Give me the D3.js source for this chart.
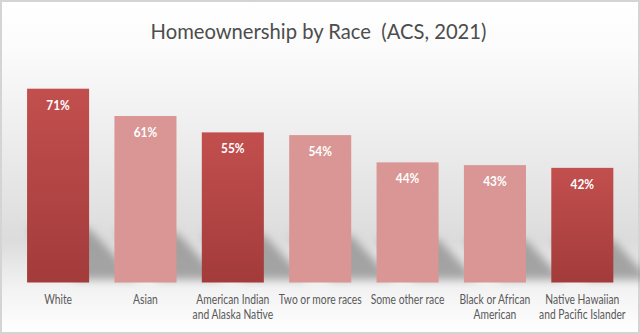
<!DOCTYPE html>
<html><head><meta charset="utf-8">
<script src="https://cdn.jsdelivr.net/npm/d3@7"></script>
<style>html,body{margin:0;padding:0;background:#fff;}svg{display:block;}</style>
</head><body>
<svg id="chart" width="640" height="334"></svg>
<script>
const categories = ["White","Asian","American Indian\nand Alaska Native","Two or more races","Some other race","Black or African\nAmerican","Native Hawaiian\nand Pacific Islander"];
const values = [71, 61, 55, 54, 44, 43, 42];
const highlight = [true, false, true, false, false, false, true];
const title = "Homeownership by Race  (ACS, 2021)";

const W = 640, H = 334;
const svg = d3.select("#chart");
const defs = svg.append("defs");

const bg = defs.append("linearGradient").attr("id","bg").attr("x1",0).attr("y1",0).attr("x2",0).attr("y2",1);
[[0,"#ffffff"],[0.15,"#fbfbfb"],[0.45,"#ebebeb"],[0.72,"#dcdcdc"],[0.86,"#f2f2f2"],[1,"#ffffff"]]
  .forEach(([o,c])=>bg.append("stop").attr("offset",o).attr("stop-color",c));
const dark = defs.append("linearGradient").attr("id","dark").attr("x1",0).attr("y1",0).attr("x2",0).attr("y2",1);
dark.append("stop").attr("offset",0).attr("stop-color","#c24f4e");
dark.append("stop").attr("offset",1).attr("stop-color","#a33b3b");
defs.append("filter").attr("id","blur").attr("x","-50%").attr("y","-50%").attr("width","200%").attr("height","200%")
  .append("feGaussianBlur").attr("stdDeviation",4.5);

svg.append("rect").attr("x",0).attr("y",0).attr("width",W).attr("height",H).attr("fill","url(#bg)");
svg.append("rect").attr("x",1).attr("y",1).attr("width",W-2).attr("height",H-2)
  .attr("fill","none").attr("stroke","#d4d4d4").attr("stroke-width",2);

const font = "Lato,'Open Sans',sans-serif";

// horizontally condense a text element (anchored at its own x=0) to mimic a narrow face
function squeeze(g, cx, cy, k) { g.attr("transform", `translate(${cx},${cy}) scale(${k},1)`); }

const tg = svg.append("g");
const tt = tg.append("text").attr("x",0).attr("y",0).attr("text-anchor","middle")
  .attr("font-family",font).attr("font-size",22).attr("fill","#4d4d4d")
  .style("white-space","pre").text(title);
squeeze(tg, 318.5, 38.5, 336 / tt.node().getComputedTextLength());

const x = d3.scaleBand().domain(categories).range([14.4, 626]).paddingInner(0.29).paddingOuter(0.145);
const y = d3.scaleLinear().domain([0, 71]).range([282.5, 88.7]);

const data = categories.map((c,i)=>({c, v: values[i], hl: highlight[i]}));

// perspective shadows cast on the back wall
svg.append("g").attr("filter","url(#blur)").selectAll("path").data(data).join("path")
  .attr("d", d => {
    const x0 = x(d.c), x1 = x0 + x.bandwidth(), b = y(0) - 3;
    const sh = (y(0) - y(d.v)) * 0.15 + 22, dx = sh * 0.95;
    return `M${x0},${b-sh}L${x1},${b-sh}L${x1+dx},${b}L${x0+dx},${b}Z`;
  })
  .attr("fill","#8c8c8c").attr("opacity",0.75);

svg.append("g").selectAll("rect").data(data).join("rect")
  .attr("x", d => x(d.c)).attr("width", x.bandwidth())
  .attr("y", d => y(d.v)).attr("height", d => y(0) - y(d.v))
  .attr("fill", d => d.hl ? "url(#dark)" : "#d99694");

const pg = svg.append("g").selectAll("g").data(data).join("g");
pg.append("text").attr("x",0).attr("y",0)
  .attr("text-anchor","middle").attr("font-family",font).attr("font-weight","bold")
  .attr("font-size",13.5).attr("fill","#ffffff").text(d => d.v + "%");
pg.each(function(d){ squeeze(d3.select(this), x(d.c) + x.bandwidth()/2, y(d.v) + 21, 0.88); });

const lg = svg.append("g").selectAll("g").data(data).join("g");
const lab = lg.append("text").attr("text-anchor","middle").attr("font-family",font)
  .attr("font-size",12.8).attr("fill","#595959");
lab.each(function(d){
  const t = d3.select(this);
  d.c.split("\n").forEach((line,i)=>{
    t.append("tspan").attr("x", 0).attr("y", i*16).text(line);
  });
});
// scale so that "Two or more races" spans ~83px like the reference
const probe = lab.filter(d => d.c === "Two or more races").node();
const k = 83 / probe.getComputedTextLength();
lg.each(function(d){ squeeze(d3.select(this), x(d.c) + x.bandwidth()/2, 303.5, k); });
</script>
</body></html>
